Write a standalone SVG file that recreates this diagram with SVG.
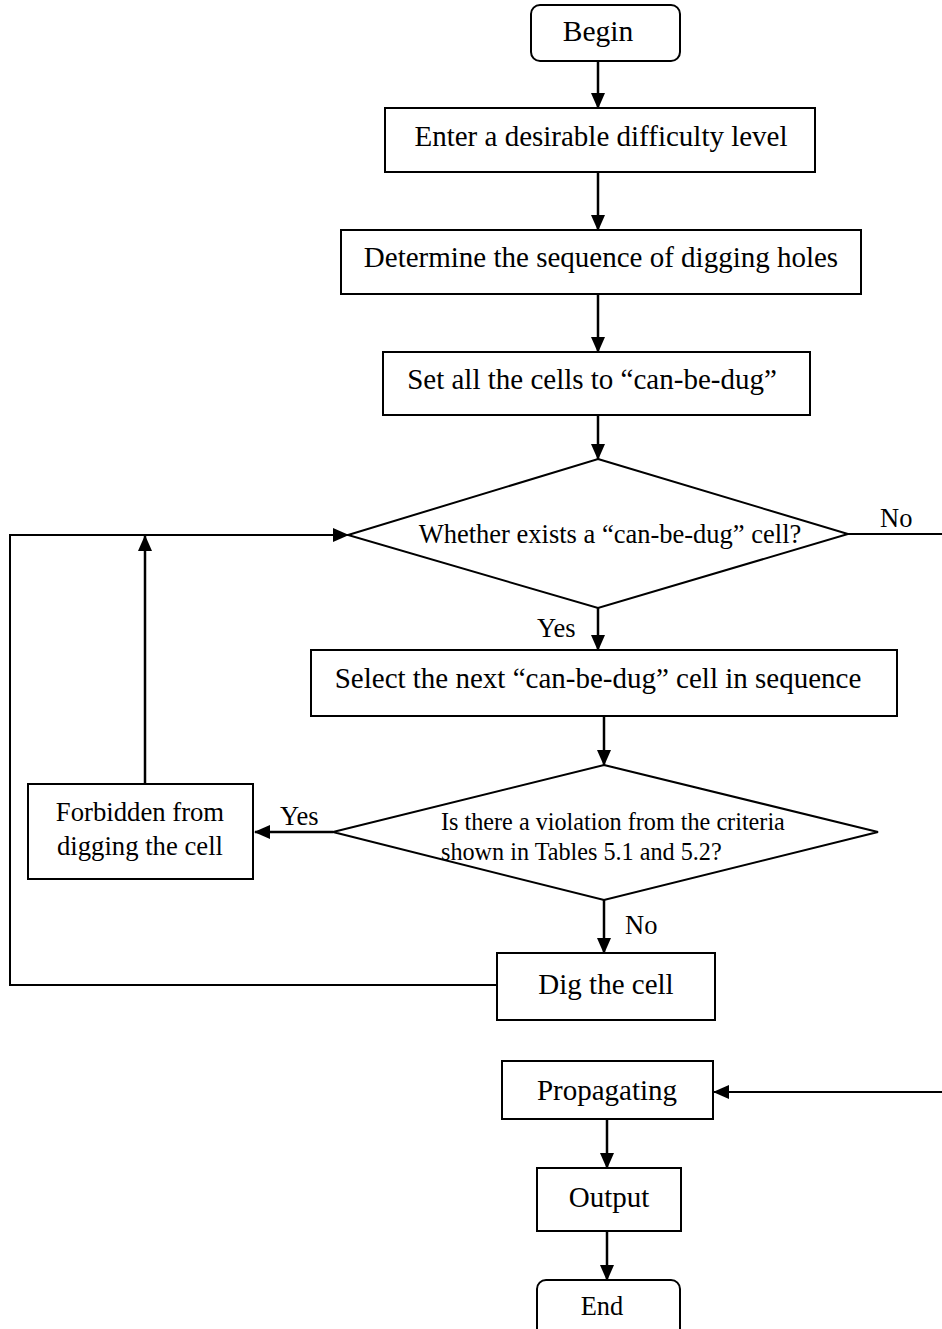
<svg xmlns="http://www.w3.org/2000/svg" width="942" height="1329" viewBox="0 0 942 1329">
<style>
.s{fill:#fff;stroke:#000;stroke-width:2}
.t{font-family:"Liberation Serif","Times New Roman",serif;fill:#000}
.b{font-size:29px}
.l{font-size:26.5px}
.c{fill:none;stroke:#000;stroke-width:2.5}
.c2{fill:none;stroke:#000;stroke-width:2}
</style>
<defs>
<marker id="a" markerUnits="userSpaceOnUse" markerWidth="16" markerHeight="16" viewBox="0 0 16 16" refX="15" refY="8" orient="auto">
<path d="M0,1 L16,8 L0,15 Z" fill="#000"/>
</marker>
</defs>
<rect width="942" height="1329" fill="#fff"/>
<g id="connectors">
<line class="c" x1="598" y1="61" x2="598" y2="108" marker-end="url(#a)"/>
<line class="c" x1="598" y1="172" x2="598" y2="230" marker-end="url(#a)"/>
<line class="c" x1="598" y1="294" x2="598" y2="352" marker-end="url(#a)"/>
<line class="c" x1="598" y1="415" x2="598" y2="459" marker-end="url(#a)"/>
<line class="c" x1="598" y1="608" x2="598" y2="650" marker-end="url(#a)"/>
<line class="c" x1="604" y1="716" x2="604" y2="765" marker-end="url(#a)"/>
<line class="c" x1="333" y1="832" x2="255" y2="832" marker-end="url(#a)"/>
<line class="c" x1="145" y1="784" x2="145" y2="536" marker-end="url(#a)"/>
<polyline class="c2" points="497,985 10,985 10,535 348,535" marker-end="url(#a)"/>
<line class="c" x1="604" y1="900" x2="604" y2="953" marker-end="url(#a)"/>
<polyline class="c2" points="848,534 946,534 946,1092 714,1092" marker-end="url(#a)"/>
<line class="c" x1="607" y1="1119" x2="607" y2="1168" marker-end="url(#a)"/>
<line class="c" x1="607" y1="1231" x2="607" y2="1280" marker-end="url(#a)"/>
<text class="t l" x="880" y="527">No</text>
<text class="t l" x="537" y="637">Yes</text>
<text class="t l" x="280" y="825">Yes</text>
<text class="t l" x="625" y="934">No</text>
</g>
<g id="begin">
<rect class="s" x="531" y="5" width="149" height="56" rx="9"/>
<text class="t" x="598" y="41" font-size="29.5" text-anchor="middle">Begin</text>
</g>
<g id="enter">
<rect class="s" x="385" y="108" width="430" height="64"/>
<text class="t b" x="601" y="146" text-anchor="middle">Enter a desirable difficulty level</text>
</g>
<g id="determine">
<rect class="s" x="341" y="230" width="520" height="64"/>
<text class="t b" x="601" y="267" text-anchor="middle">Determine the sequence of digging holes</text>
</g>
<g id="setall">
<rect class="s" x="383" y="352" width="427" height="63"/>
<text class="t b" x="592" y="389" text-anchor="middle">Set all the cells to “can-be-dug”</text>
</g>
<g id="exists">
<polygon class="s" points="598,459 848,534 598,608 348,535"/>
<text class="t" x="610" y="543" font-size="26.5" text-anchor="middle">Whether exists a “can-be-dug” cell?</text>
</g>
<g id="select">
<rect class="s" x="311" y="650" width="586" height="66"/>
<text class="t b" x="598" y="688" text-anchor="middle">Select the next “can-be-dug” cell in sequence</text>
</g>
<g id="violation">
<polygon class="s" points="604,765 878,832 604,900 333,832"/>
<text class="t" x="441" y="830" font-size="24.2">Is there a violation from the criteria</text>
<text class="t" x="441" y="860" font-size="24.2">shown in Tables 5.1 and 5.2?</text>
</g>
<g id="forbidden">
<rect class="s" x="28" y="784" width="225" height="95"/>
<text class="t" x="140" y="821" font-size="26.7" text-anchor="middle">Forbidden from</text>
<text class="t" x="140" y="855" font-size="26.7" text-anchor="middle">digging the cell</text>
</g>
<g id="dig">
<rect class="s" x="497" y="953" width="218" height="67"/>
<text class="t b" x="606" y="994" text-anchor="middle">Dig the cell</text>
</g>
<g id="propagating">
<rect class="s" x="502" y="1061" width="211" height="58"/>
<text class="t b" x="607" y="1100" text-anchor="middle">Propagating</text>
</g>
<g id="output">
<rect class="s" x="537" y="1168" width="144" height="63"/>
<text class="t b" x="609" y="1207" text-anchor="middle">Output</text>
</g>
<g id="end">
<rect class="s" x="537" y="1280" width="143" height="60" rx="9"/>
<text class="t" x="602" y="1315" font-size="26.4" text-anchor="middle">End</text>
</g>
</svg>
